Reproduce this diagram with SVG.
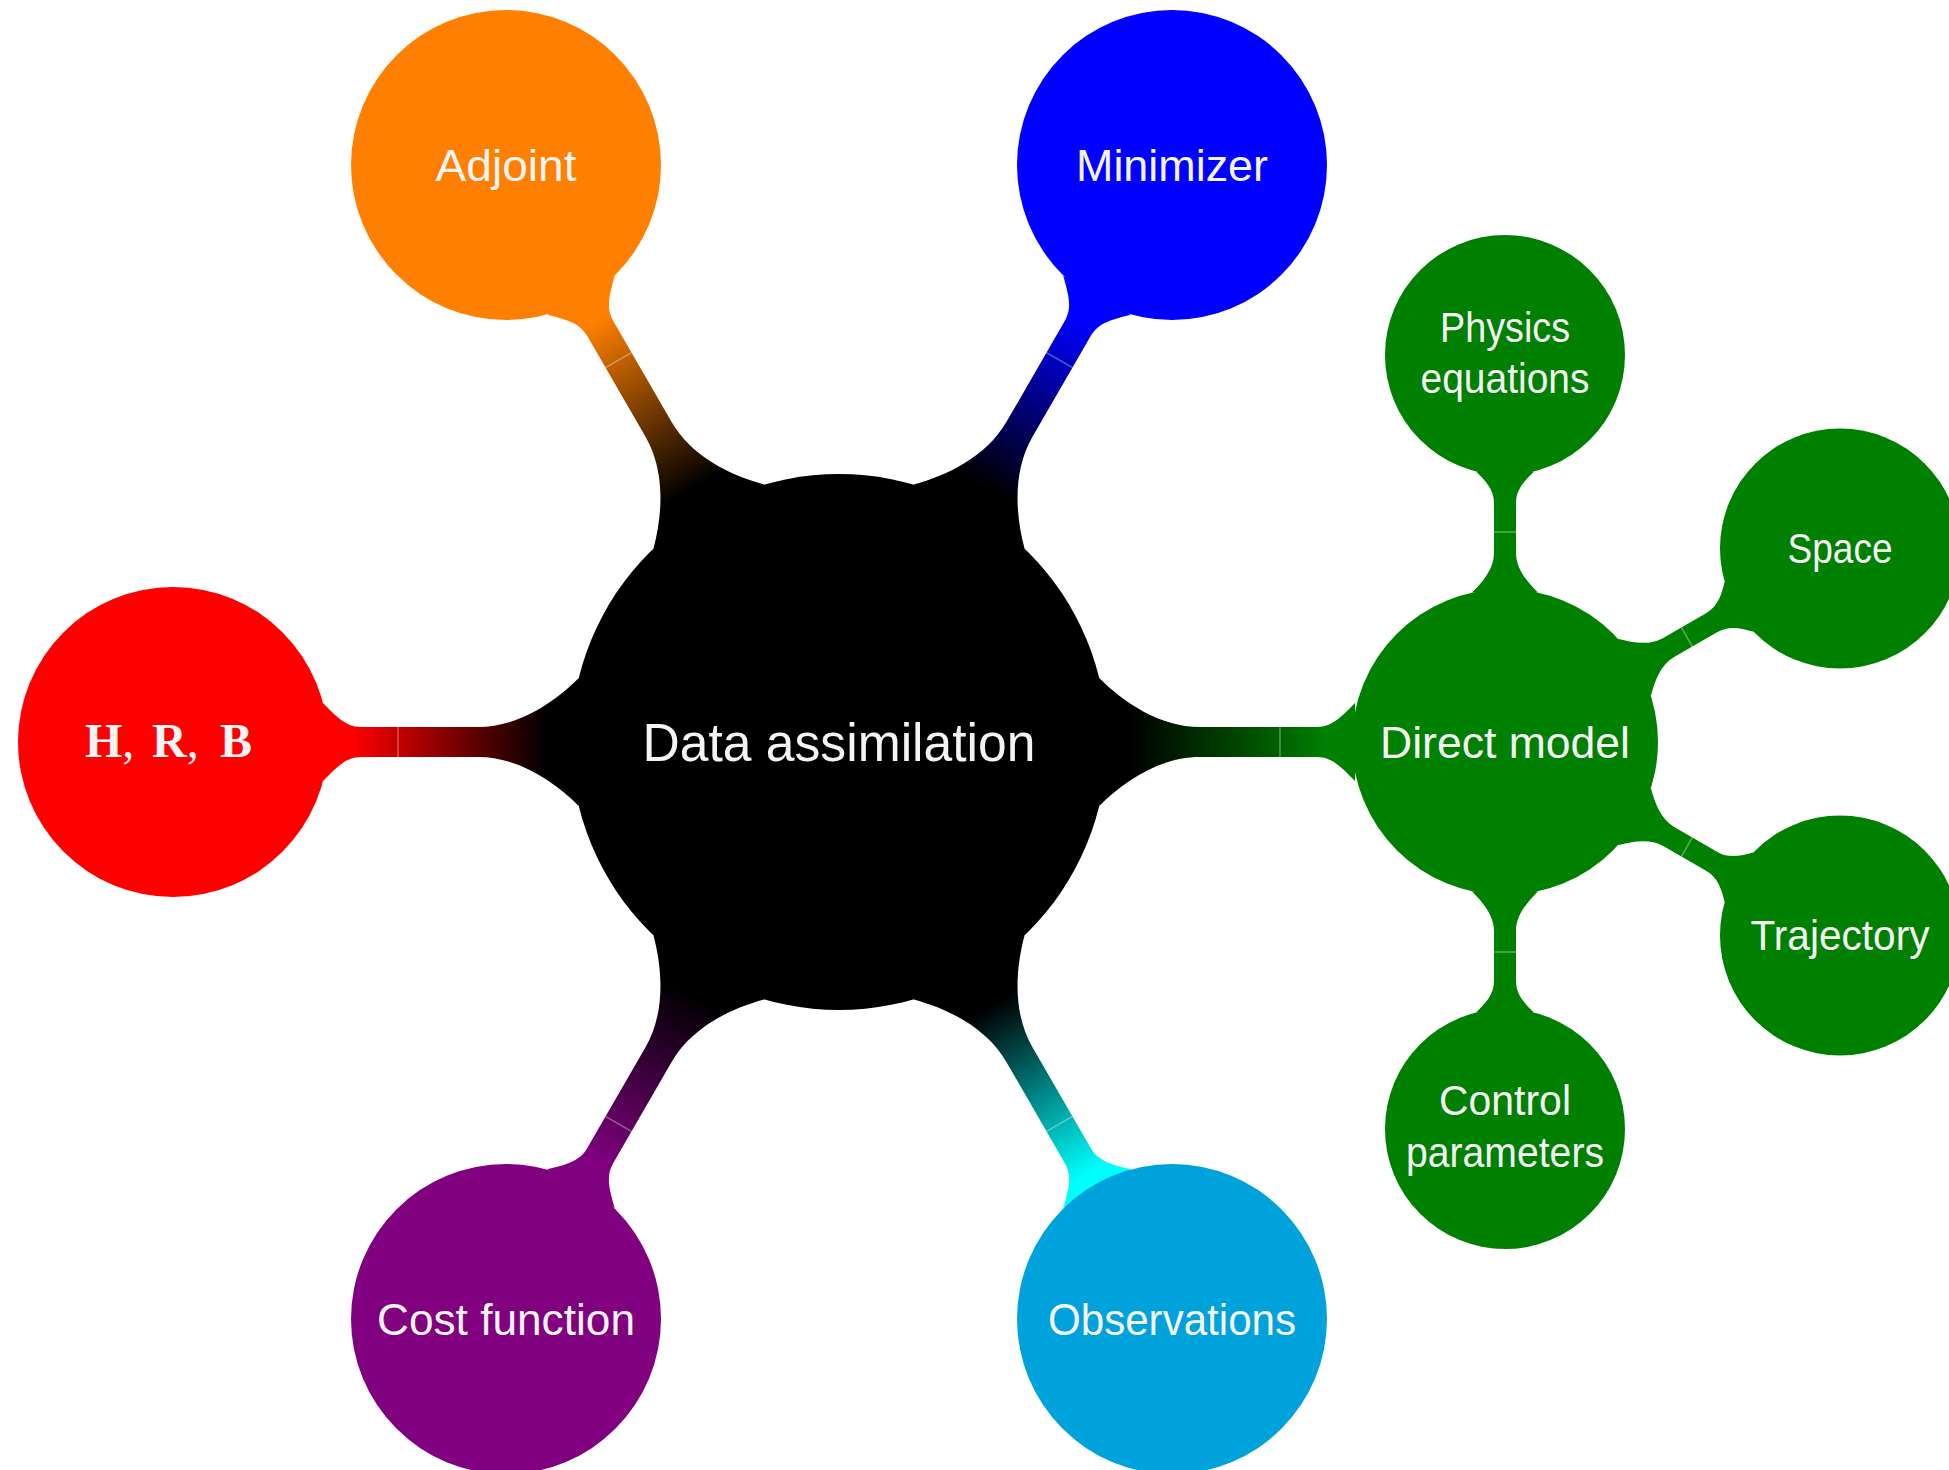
<svg xmlns="http://www.w3.org/2000/svg" width="1949" height="1470" viewBox="0 0 1949 1470">
  <defs>
    <style>
      .lbl { font-family: "Liberation Sans", Arial, sans-serif; fill: #F4F4F4; text-anchor: middle; }
      .root { font-size: 53px; }
      .l1 { font-size: 45px; }
      .l2 { font-size: 42px; }
      .math { font-family: "Liberation Serif", "Times New Roman", serif; font-size: 48px; fill: #F4F4F4; }
      .seam { stroke: #FFFFFF; stroke-opacity: 0.35; stroke-width: 1.5; fill: none; }
    </style>
    <!-- colour switch along a level-1 bar: child colour at the child end, black at the root end -->
    <linearGradient id="gRed" gradientUnits="userSpaceOnUse" x1="511" y1="0" x2="268" y2="0">
      <stop offset="0.1" stop-color="#FF0000"/><stop offset="0.9" stop-color="#000000"/>
    </linearGradient>
    <linearGradient id="gOrange" gradientUnits="userSpaceOnUse" x1="511" y1="0" x2="268" y2="0">
      <stop offset="0.1" stop-color="#FF8000"/><stop offset="0.9" stop-color="#000000"/>
    </linearGradient>
    <linearGradient id="gBlue" gradientUnits="userSpaceOnUse" x1="511" y1="0" x2="268" y2="0">
      <stop offset="0.1" stop-color="#0000FF"/><stop offset="0.9" stop-color="#000000"/>
    </linearGradient>
    <linearGradient id="gGreen" gradientUnits="userSpaceOnUse" x1="511" y1="0" x2="268" y2="0">
      <stop offset="0.1" stop-color="#008000"/><stop offset="0.9" stop-color="#000000"/>
    </linearGradient>
    <linearGradient id="gViolet" gradientUnits="userSpaceOnUse" x1="511" y1="0" x2="268" y2="0">
      <stop offset="0.1" stop-color="#800080"/><stop offset="0.9" stop-color="#000000"/>
    </linearGradient>
    <linearGradient id="gCyan" gradientUnits="userSpaceOnUse" x1="511" y1="0" x2="268" y2="0">
      <stop offset="0.05" stop-color="#00FFFF"/><stop offset="0.85" stop-color="#000000"/>
    </linearGradient>
    <!-- bar from the root (r=268) to a level-1 concept (r=155) placed 666 px along +x -->
    <path id="bar1" d="M260.25,64 C284.75,39.5 320.7,15 361,15 L478,15 C494,15 504,27 516,39 L516,-39 C504,-27 494,-15 478,-15 L361,-15 C320.7,-15 284.75,-39.5 260.25,-64 Z"/>
    <!-- bar from a level-1 concept (r=153) to a level-2 concept (r=120) placed 387 px along +x -->
    <path id="bar2" d="M149.4,33 C160.4,22 173.2,11 189,11 L239,11 C253,11 261.6,20 270.6,29 L270.6,-29 C261.6,-20 253,-11 239,-11 L189,-11 C173.2,-11 160.4,-22 149.4,-33 Z"/>
  </defs>

  <rect width="1949" height="1470" fill="#FFFFFF"/>

  <g id="connectors">
    <g transform="translate(839,742) rotate(180)">
      <use href="#bar1" fill="url(#gRed)"/><line class="seam" x1="441" y1="-15" x2="441" y2="15"/>
    </g>
    <g transform="translate(839,742) rotate(-120)">
      <use href="#bar1" fill="url(#gOrange)"/><line class="seam" x1="441" y1="-15" x2="441" y2="15"/>
    </g>
    <g transform="translate(839,742) rotate(-60)">
      <use href="#bar1" fill="url(#gBlue)"/><line class="seam" x1="441" y1="-15" x2="441" y2="15"/>
    </g>
    <g transform="translate(839,742)">
      <use href="#bar1" fill="url(#gGreen)"/><line class="seam" x1="441" y1="-15" x2="441" y2="15"/>
    </g>
    <g transform="translate(839,742) rotate(120)">
      <use href="#bar1" fill="url(#gViolet)"/><line class="seam" x1="441" y1="-15" x2="441" y2="15"/>
    </g>
    <g transform="translate(839,742) rotate(60)">
      <use href="#bar1" fill="url(#gCyan)"/><line class="seam" x1="441" y1="-15" x2="441" y2="15"/>
    </g>
    <g transform="translate(1505,742) rotate(-90)">
      <use href="#bar2" fill="#008000"/><line class="seam" x1="210" y1="-11" x2="210" y2="11"/>
    </g>
    <g transform="translate(1505,742) rotate(-30)">
      <use href="#bar2" fill="#008000"/><line class="seam" x1="210" y1="-11" x2="210" y2="11"/>
    </g>
    <g transform="translate(1505,742) rotate(30)">
      <use href="#bar2" fill="#008000"/><line class="seam" x1="210" y1="-11" x2="210" y2="11"/>
    </g>
    <g transform="translate(1505,742) rotate(90)">
      <use href="#bar2" fill="#008000"/><line class="seam" x1="210" y1="-11" x2="210" y2="11"/>
    </g>
  </g>

  <g id="node-data-assimilation">
    <circle cx="839" cy="742" r="268" fill="#000000"/>
    <text class="lbl root" x="839" y="761" textLength="393" lengthAdjust="spacingAndGlyphs">Data assimilation</text>
  </g>

  <g id="node-hrb">
    <circle cx="173" cy="742" r="155" fill="#FF0000"/>
    <text class="math" y="757"><tspan x="85" font-weight="bold">H</tspan><tspan>,</tspan><tspan x="152" font-weight="bold">R</tspan><tspan>,</tspan><tspan x="220" font-weight="bold">B</tspan></text>
  </g>

  <g id="node-adjoint">
    <circle cx="506" cy="165" r="155" fill="#FF8000"/>
    <text class="lbl l1" x="506" y="181" textLength="141" lengthAdjust="spacingAndGlyphs">Adjoint</text>
  </g>

  <g id="node-minimizer">
    <circle cx="1172" cy="165" r="155" fill="#0000FF"/>
    <text class="lbl l1" x="1172" y="181" textLength="192" lengthAdjust="spacingAndGlyphs">Minimizer</text>
  </g>

  <g id="node-cost-function">
    <circle cx="506" cy="1319" r="155" fill="#800080"/>
    <text class="lbl l1" x="506" y="1335" textLength="258" lengthAdjust="spacingAndGlyphs">Cost function</text>
  </g>

  <g id="node-observations">
    <circle cx="1172" cy="1319" r="155" fill="#00A2DB"/>
    <text class="lbl l1" x="1172" y="1335" textLength="248" lengthAdjust="spacingAndGlyphs">Observations</text>
  </g>

  <g id="node-direct-model">
    <circle cx="1505" cy="742" r="153" fill="#008000"/>
    <text class="lbl l1" x="1505" y="758" textLength="250" lengthAdjust="spacingAndGlyphs">Direct model</text>
  </g>

  <g id="node-physics-equations">
    <circle cx="1505" cy="355" r="120" fill="#008000"/>
    <text class="lbl l2" x="1505" y="342" textLength="130" lengthAdjust="spacingAndGlyphs">Physics</text>
    <text class="lbl l2" x="1505" y="393" textLength="169" lengthAdjust="spacingAndGlyphs">equations</text>
  </g>

  <g id="node-space">
    <circle cx="1840" cy="548.5" r="120" fill="#008000"/>
    <text class="lbl l2" x="1840" y="563" textLength="105" lengthAdjust="spacingAndGlyphs">Space</text>
  </g>

  <g id="node-trajectory">
    <circle cx="1840" cy="935.5" r="120" fill="#008000"/>
    <text class="lbl l2" x="1840" y="950" textLength="179" lengthAdjust="spacingAndGlyphs">Trajectory</text>
  </g>

  <g id="node-control-parameters">
    <circle cx="1505" cy="1129" r="120" fill="#008000"/>
    <text class="lbl l2" x="1505" y="1115" textLength="132" lengthAdjust="spacingAndGlyphs">Control</text>
    <text class="lbl l2" x="1505" y="1167" textLength="198" lengthAdjust="spacingAndGlyphs">parameters</text>
  </g>
</svg>
